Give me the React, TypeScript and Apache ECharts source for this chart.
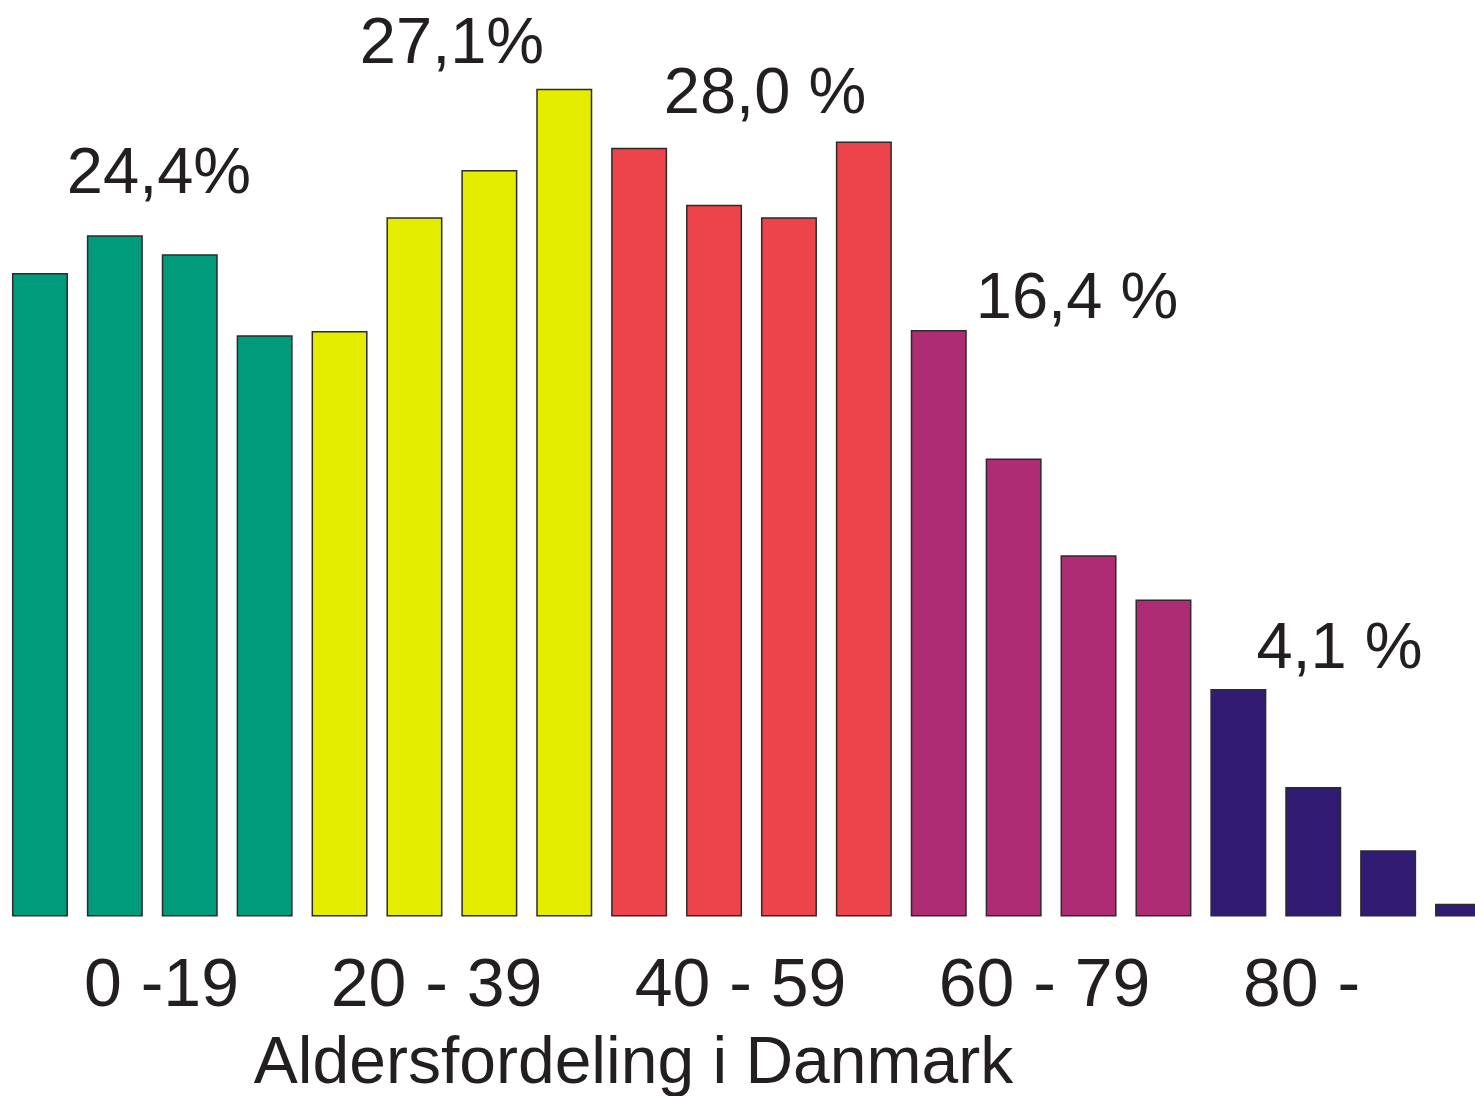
import React, { useEffect, useRef } from "react";
import * as echarts from "echarts";

const categories = [
  "0-4", "5-9", "10-14", "15-19",
  "20-24", "25-29", "30-34", "35-39",
  "40-44", "45-49", "50-54", "55-59",
  "60-64", "65-69", "70-74", "75-79",
  "80-84", "85-89", "90-94", "95-",
];
const values = [
  6.11, 6.47, 6.29, 5.52,
  5.56, 6.64, 7.09, 7.86,
  7.30, 6.76, 6.64, 7.36,
  5.57, 4.35, 3.43, 3.01,
  2.16, 1.23, 0.63, 0.12,
];
const groupColors = ["#009b7b", "#e4ec00", "#ed434b", "#ae2c74", "#321b72"];
const groupLabels = ["0 -19", "20 - 39", "40 - 59", "60 - 79", "80 -"];
const groupShares = ["24,4%", "27,1%", "28,0 %", "16,4 %", "4,1 %"];
const title = "Aldersfordeling i Danmark";

const TEXT_COLOR = "#231f20";
const FONT = "'Liberation Sans', Arial, Helvetica, sans-serif";

export default function App() {
  const ref = useRef<HTMLDivElement>(null);
  useEffect(() => {
    if (!ref.current) return;
    const chart = echarts.init(ref.current, null, { renderer: "svg" });
    const shareLabelPos = [
      [159, 170],
      [452, 40.5],
      [765, 90.5],
      [1077, 295],
      [1339.5, 645.5],
    ];
    const axisLabelPos = [161.5, 436.5, 740.5, 1044.5, 1301.5];
    const texts: any[] = [];
    groupShares.forEach((t, i) => {
      texts.push({
        type: "text",
        x: shareLabelPos[i][0],
        y: shareLabelPos[i][1],
        style: {
          text: t,
          fill: TEXT_COLOR,
          font: `65px ${FONT}`,
          align: "center",
          verticalAlign: "middle",
        },
      });
    });
    groupLabels.forEach((t, i) => {
      texts.push({
        type: "text",
        x: axisLabelPos[i],
        y: 982,
        style: {
          text: t,
          fill: TEXT_COLOR,
          font: `68px ${FONT}`,
          align: "center",
          verticalAlign: "middle",
        },
      });
    });
    texts.push({
      type: "text",
      x: 633.5,
      y: 1060,
      style: {
        text: title,
        fill: TEXT_COLOR,
        font: `66px ${FONT}`,
        align: "center",
        verticalAlign: "middle",
      },
    });
    chart.setOption({
      animation: false,
      backgroundColor: "#ffffff",
      grid: {
        left: 2.5,
        top: 74.1,
        width: 1498,
        height: 842.4,
        outerBoundsMode: "none",
        containLabel: false,
      },
      xAxis: {
        type: "category",
        data: categories,
        boundaryGap: true,
        axisLine: { show: false },
        axisTick: { show: false },
        axisLabel: { show: false },
      },
      yAxis: {
        type: "value",
        min: 0,
        max: 8,
        show: false,
        splitLine: { show: false },
      },
      series: [
        {
          type: "bar",
          barWidth: 56,
          data: values.map((v, i) => ({
            value: v,
            itemStyle: { color: groupColors[Math.floor(i / 4)] },
          })),
          itemStyle: { borderColor: "#2e2a2b", borderWidth: 1.5 },
          silent: true,
        },
      ],
      graphic: texts,
    });
    return () => chart.dispose();
  }, []);
  return (
    <div
      ref={ref}
      style={{ position: "absolute", left: 0, top: 0, width: 1475, height: 1096 }}
    />
  );
}
